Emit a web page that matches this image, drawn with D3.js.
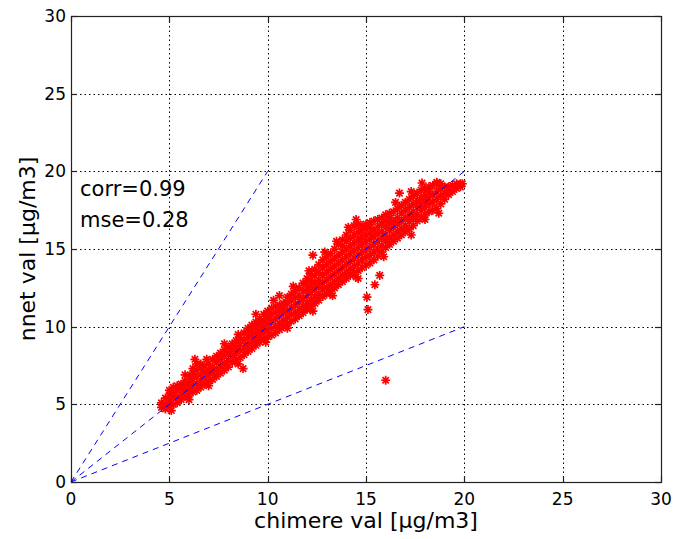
<!DOCTYPE html>
<html>
<head>
<meta charset="utf-8">
<script src="https://cdn.jsdelivr.net/npm/d3@7"></script>
<style>
  body { margin: 0; background: #fff; }
  svg text { font-family: "DejaVu Sans", sans-serif; fill: #000; }
</style>
</head>
<body>
<div id="chart"></div>
<script>
// Axis ticks
const xTicks = [0, 5, 10, 15, 20, 25, 30];
const yTicks = [0, 5, 10, 15, 20, 25, 30];

// Reference lines (x end, y end) starting at origin
const refLines = [[10, 20], [20, 20], [20, 10]];

// Stats printed on the chart
const statLabels = ["corr=0.99", "mse=0.28"];

// Scatter: each column is an x value with the y values
const bandColumns = [
  [4.6, [4.8, 5.1]],
  [4.8, [4.7, 5.0, 5.4]],
  [5.0, [4.9, 5.2, 5.6, 5.9]],
  [5.2, [5.0, 5.4, 5.7, 6.1]],
  [5.4, [5.1, 5.5, 5.9, 6.2]],
  [5.6, [5.3, 5.6, 6.0, 6.3]],
  [5.8, [5.5, 5.8, 6.2, 6.5]],
  [6.0, [5.6, 6.0, 6.4, 6.8]],
  [6.2, [5.8, 6.2, 6.6, 7.0, 7.3]],
  [6.4, [5.9, 6.3, 6.8, 7.2, 7.6]],
  [6.6, [6.1, 6.5, 6.9, 7.3, 7.6]],
  [6.8, [6.3, 6.7, 7.1, 7.5]],
  [7.0, [6.5, 6.9, 7.2, 7.6]],
  [7.2, [6.6, 7.0, 7.4, 7.9]],
  [7.4, [6.8, 7.2, 7.7, 8.1]],
  [7.6, [7.0, 7.4, 7.9, 8.3]],
  [7.8, [7.2, 7.6, 8.1, 8.5]],
  [8.0, [7.4, 7.8, 8.3, 8.7]],
  [8.2, [7.7, 8.1, 8.5, 8.9]],
  [8.4, [7.9, 8.3, 8.7, 9.1]],
  [8.6, [8.0, 8.5, 8.9, 9.3]],
  [8.8, [8.2, 8.6, 9.1, 9.6]],
  [9.0, [8.4, 8.8, 9.3, 9.6, 9.9]],
  [9.2, [8.6, 9.0, 9.4, 9.8, 10.1]],
  [9.4, [8.8, 9.2, 9.6, 10.0, 10.3]],
  [9.6, [9.0, 9.4, 9.8, 10.2, 10.5]],
  [9.8, [9.2, 9.6, 10.0, 10.4, 10.8]],
  [10.0, [9.35, 9.8, 10.2, 10.6, 11.0]],
  [10.2, [9.45, 9.9, 10.4, 10.8, 11.2]],
  [10.4, [9.6, 10.0, 10.5, 10.9, 11.3]],
  [10.6, [9.8, 10.2, 10.7, 11.1, 11.4]],
  [10.8, [10.0, 10.4, 10.9, 11.2, 11.5]],
  [11.0, [10.2, 10.6, 11.0, 11.5, 11.9]],
  [11.2, [10.35, 10.8, 11.2, 11.7, 12.1]],
  [11.4, [10.5, 10.9, 11.4, 11.9, 12.3]],
  [11.6, [10.7, 11.1, 11.6, 12.0, 12.5]],
  [11.8, [10.9, 11.3, 11.8, 12.3, 12.8]],
  [12.0, [11.1, 11.5, 12.0, 12.4, 12.8, 13.1]],
  [12.2, [11.3, 11.7, 12.2, 12.6, 13.0, 13.4]],
  [12.4, [11.5, 11.9, 12.4, 12.8, 13.3, 13.7]],
  [12.6, [11.7, 12.1, 12.6, 13.0, 13.5, 14.0]],
  [12.8, [11.95, 12.4, 12.8, 13.3, 13.8, 14.3]],
  [13.0, [12.1, 12.5, 13.0, 13.5, 14.0, 14.5]],
  [13.2, [12.3, 12.7, 13.2, 13.7, 14.2, 14.7]],
  [13.4, [12.5, 12.9, 13.4, 13.9, 14.4, 15.0]],
  [13.6, [12.7, 13.1, 13.6, 14.1, 14.6, 15.3]],
  [13.8, [12.9, 13.3, 13.8, 14.3, 14.8, 15.2, 15.6]],
  [14.0, [13.1, 13.5, 14.0, 14.5, 15.0, 15.5, 15.9]],
  [14.2, [13.3, 13.7, 14.2, 14.7, 15.2, 15.7, 16.2]],
  [14.4, [13.5, 13.9, 14.4, 14.9, 15.4, 15.9, 16.5]],
  [14.6, [13.6, 14.1, 14.6, 15.1, 15.6, 16.1, 16.6]],
  [14.8, [13.8, 14.3, 14.8, 15.3, 15.8, 16.2, 16.5]],
  [15.0, [13.95, 14.5, 15.0, 15.5, 15.9, 16.3, 16.6]],
  [15.2, [14.1, 14.6, 15.1, 15.6, 16.0, 16.4, 16.7]],
  [15.4, [14.3, 14.8, 15.3, 15.8, 16.2, 16.8]],
  [15.6, [14.55, 15.0, 15.5, 16.0, 16.4, 16.9]],
  [15.8, [14.8, 15.2, 15.7, 16.1, 16.6, 17.0]],
  [16.0, [15.1, 15.5, 15.9, 16.4, 16.8, 17.2]],
  [16.2, [15.3, 15.7, 16.2, 16.6, 17.0, 17.3]],
  [16.4, [15.5, 15.9, 16.4, 16.8, 17.4]],
  [16.6, [15.7, 16.1, 16.6, 17.0, 17.6]],
  [16.8, [15.9, 16.3, 16.8, 17.3, 17.8]],
  [17.0, [16.1, 16.5, 17.0, 17.5, 18.0]],
  [17.2, [16.3, 16.8, 17.2, 17.7, 18.2]],
  [17.4, [16.5, 17.0, 17.4, 17.9, 18.4]],
  [17.6, [16.8, 17.2, 17.7, 18.1, 18.6]],
  [17.8, [17.0, 17.5, 17.9, 18.3, 18.8]],
  [18.0, [17.2, 17.7, 18.1, 18.5, 18.9]],
  [18.2, [17.4, 17.9, 18.3, 18.7, 19.0]],
  [18.4, [17.5, 18.0, 18.5, 19.1]],
  [18.6, [17.6, 18.2, 18.7, 19.2]],
  [18.8, [17.9, 18.4, 18.9, 19.2]],
  [19.0, [18.2, 18.6, 19.0]],
  [19.2, [18.5, 18.8, 19.0]],
  [19.4, [18.7, 19.1]],
  [19.6, [18.9, 19.2]],
  [19.8, [19.0, 19.2]]
];

// Stray stars along the band edges
const edgeStars = [
  [5.8, 6.9], [6.3, 7.9], [6.9, 7.9], [7.8, 8.9], [8.5, 9.5], [9.4, 10.8],
  [10.3, 11.7], [11.3, 12.6], [12.1, 13.6], [12.9, 14.8], [13.5, 15.5],
  [14.1, 16.4], [14.5, 16.9], [16.5, 18.0], [17.3, 18.7],
  [5.1, 4.6], [6.0, 5.3], [7.0, 6.2], [8.5, 7.6], [9.9, 9.0], [11.0, 9.9],
  [12.3, 11.0], [13.3, 12.0], [14.5, 13.2], [15.9, 14.5], [17.3, 15.9], [18.7, 17.3]
];

// Isolated stars away from the band
const outliers = [
  [12.3, 14.6], [14.6, 13.1], [15.7, 13.3], [15.45, 12.7], [15.05, 11.9],
  [15.1, 11.1], [16.0, 6.55], [8.75, 7.3], [10.6, 12.0], [16.7, 18.6],
  [17.85, 19.25], [19.9, 19.2], [18.6, 19.3], [18.0, 16.9], [14.7, 15.6]
];

const width = 676;
const height = 539;
const marginTop = 16;
const marginRight = 15;
const marginBottom = 57;
const marginLeft = 71;

const x = d3.scaleLinear()
    .domain([0, 30])
    .range([marginLeft, width - marginRight]);

const y = d3.scaleLinear()
    .domain([0, 30])
    .range([height - marginBottom, marginTop]);

const svg = d3.select("#chart").append("svg")
    .attr("width", width)
    .attr("height", height)
    .attr("viewBox", [0, 0, width, height]);

svg.append("rect")
    .attr("width", width)
    .attr("height", height)
    .attr("fill", "#fff");

// Grid (dotted, matlab style)
const grid = svg.append("g")
    .attr("stroke", "#000")
    .attr("stroke-width", 1)
    .attr("stroke-dasharray", "1.5,3");

grid.selectAll(".gx")
  .data(xTicks.filter(d => d > 0 && d < 30))
  .join("line")
    .attr("x1", d => Math.round(x(d)) + 0.5)
    .attr("x2", d => Math.round(x(d)) + 0.5)
    .attr("y1", y(0))
    .attr("y2", y(30));

grid.selectAll(".gy")
  .data(yTicks.filter(d => d > 0 && d < 30))
  .join("line")
    .attr("y1", d => Math.round(y(d)) + 0.5)
    .attr("y2", d => Math.round(y(d)) + 0.5)
    .attr("x1", x(0))
    .attr("x2", x(30));

// Scatter points
const points = [];
bandColumns.forEach(([cx, ys]) => ys.forEach(cy => points.push([cx, cy])));
edgeStars.forEach(p => points.push(p));
outliers.forEach(p => points.push(p));

const star = "M-4.5,0H4.5M0,-4.5V4.5M-3.2,-3.2L3.2,3.2M-3.2,3.2L3.2,-3.2";

svg.append("g")
    .attr("fill", "none")
    .attr("stroke", "#ff0000")
    .attr("stroke-width", 1.7)
  .selectAll("path")
  .data(points)
  .join("path")
    .attr("transform", d => `translate(${x(d[0])},${y(d[1])})`)
    .attr("d", star);

// Blue dashed reference lines
svg.append("g")
    .attr("stroke", "#0000ff")
    .attr("stroke-width", 1)
    .attr("stroke-dasharray", "6,5")
  .selectAll("line")
  .data(refLines)
  .join("line")
    .attr("x1", x(0))
    .attr("y1", y(0))
    .attr("x2", d => x(d[0]))
    .attr("y2", d => y(d[1]));

// Axes box with inward ticks
const axisColor = "#222";
const tickLen = 6;

svg.append("rect")
    .attr("x", x(0) + 0.5)
    .attr("y", y(30) + 0.5)
    .attr("width", x(30) - x(0))
    .attr("height", y(0) - y(30))
    .attr("fill", "none")
    .attr("stroke", axisColor)
    .attr("stroke-width", 1.2);

const ticks = svg.append("g")
    .attr("stroke", axisColor)
    .attr("stroke-width", 1.2);

xTicks.forEach(d => {
  const px = Math.round(x(d)) + 0.5;
  ticks.append("line").attr("x1", px).attr("x2", px)
      .attr("y1", y(0)).attr("y2", y(0) - tickLen);
  ticks.append("line").attr("x1", px).attr("x2", px)
      .attr("y1", y(30)).attr("y2", y(30) + tickLen);
});
yTicks.forEach(d => {
  const py = Math.round(y(d)) + 0.5;
  ticks.append("line").attr("y1", py).attr("y2", py)
      .attr("x1", x(0)).attr("x2", x(0) + tickLen);
  ticks.append("line").attr("y1", py).attr("y2", py)
      .attr("x1", x(30)).attr("x2", x(30) - tickLen);
});

// Tick labels
svg.append("g")
    .selectAll("text")
    .data(xTicks)
    .join("text")
      .attr("x", d => x(d))
      .attr("y", y(0) + 23)
      .attr("text-anchor", "middle")
      .style("font-size", "17px")
      .text(d => d);

svg.append("g")
    .selectAll("text")
    .data(yTicks)
    .join("text")
      .attr("x", x(0) - 5)
      .attr("y", d => y(d))
      .attr("dy", "0.36em")
      .attr("text-anchor", "end")
      .style("font-size", "17px")
      .text(d => d);

// Axis labels
svg.append("text")
    .attr("x", (x(0) + x(30)) / 2)
    .attr("y", 528)
    .attr("text-anchor", "middle")
    .style("font-size", "22px")
    .text("chimere val [µg/m3]");

svg.append("text")
    .attr("transform", `translate(35,${(y(0) + y(30)) / 2}) rotate(-90)`)
    .attr("text-anchor", "middle")
    .style("font-size", "22px")
    .text("nnet val [µg/m3]");

// Stats text
svg.append("g")
    .selectAll("text")
    .data(statLabels)
    .join("text")
      .attr("x", 80)
      .attr("y", (d, i) => 196 + i * 31)
      .style("font-size", "21px")
      .text(d => d);
</script>
</body>
</html>
